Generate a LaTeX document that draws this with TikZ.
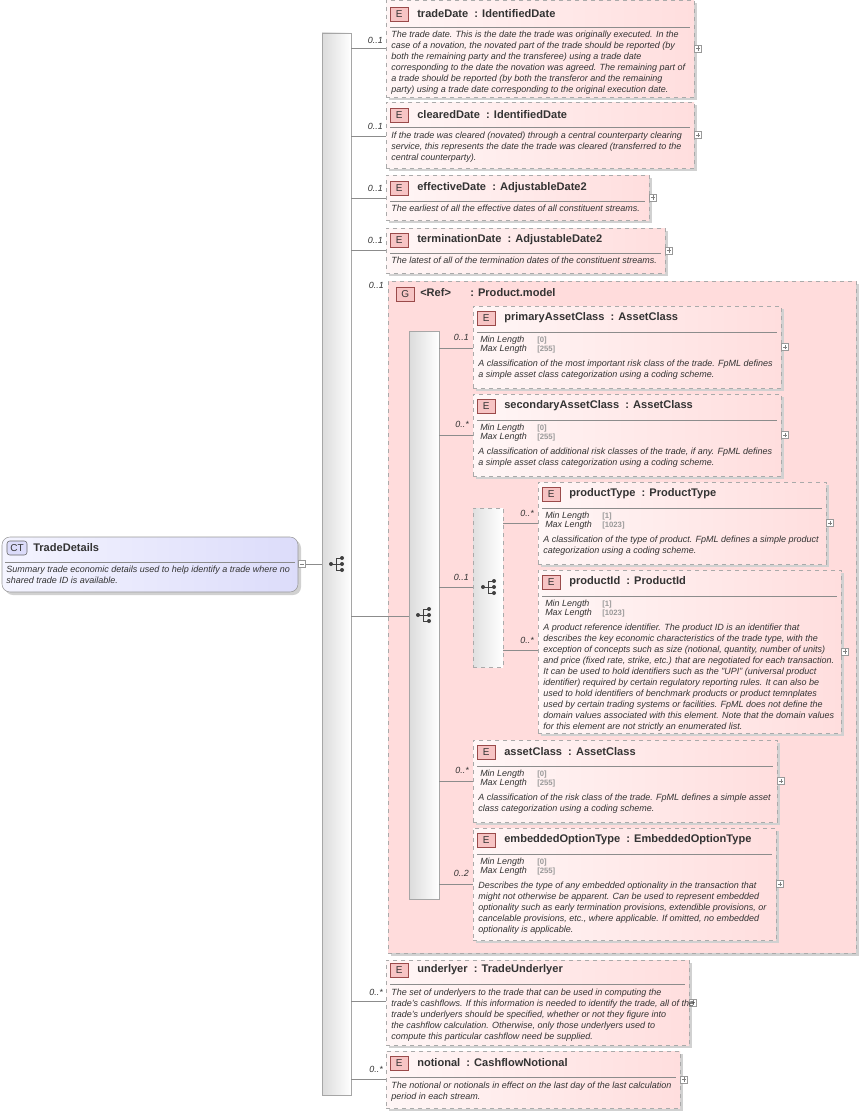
\documentclass[tikz,border=0pt]{standalone}
\usepackage{fontspec}
\setmainfont{Liberation Sans}
\usetikzlibrary{fit}
\definecolor{txt}{HTML}{333333}
\definecolor{pinkL}{HTML}{FFF6F6}
\definecolor{pinkR}{HTML}{FFDEDE}
\definecolor{grp}{HTML}{FFDCDC}
\definecolor{bdr}{HTML}{AAAAAA}
\definecolor{badgeF}{HTML}{F7C4C4}
\definecolor{badgeD}{HTML}{9A4A4A}
\definecolor{ctL}{HTML}{F4F4FF}
\definecolor{ctR}{HTML}{DCDCFA}
\tikzset{
  ebox/.style={draw=bdr,dashed,line width=0.6pt,inner sep=0,left color=pinkL,right color=pinkR},
  shad/.style={fill=black!18,draw=none},
  badge/.style={draw=badgeD,fill=badgeF,font=\fontsize{7.5}{8}\selectfont,text=txt,minimum width=13.5pt,minimum height=10.5pt,inner sep=0},
  title/.style={font=\fontsize{8.3}{9}\selectfont\bfseries,text=txt,inner sep=0,anchor=west},
  sep/.style={draw=black!45,line width=0.5pt},
  body/.style={font=\fontsize{6.75}{8.25}\selectfont\itshape,text=txt,inner sep=0,anchor=north west,align=left},
  rl/.style={font=\fontsize{6.7}{8}\selectfont\itshape,text=txt,inner sep=0,anchor=west},
  rv/.style={font=\fontsize{5.8}{7}\selectfont\bfseries,text=black!40,inner sep=0,anchor=west},
  card/.style={font=\fontsize{6.7}{8}\selectfont\itshape,text=txt,inner sep=0,anchor=east},
  plus/.style={draw=black!40,fill=white,minimum size=5.5pt,inner sep=0,line width=0.4pt},
  bar/.style={draw=black!35,left color=black!14,right color=white,inner sep=0,line width=0.5pt},
  conn/.style={draw=black!45,line width=0.5pt},
}
\newcommand\plusmark[1]{\draw[black!50,line width=0.4pt] ([xshift=-1.6pt]#1.center)--([xshift=1.6pt]#1.center) ([yshift=-1.6pt]#1.center)--([yshift=1.6pt]#1.center);}
% name x1 y1 x2 y2 titleY title sepY
\newcommand\elem[8]{%
  \fill[shad] (#2+3,#3+3) rectangle (#4+3,#5+3);
  \node[ebox,fit={(#2,#3)(#4,#5)}] (#1) {};
  \node[badge,anchor=west] (#1b) at (#2+4,#6) {E};
  \node[title] (#1t) at (#2+31,#6) {#7};
  \draw[sep] (#2+4,#8) -- (#4-4,#8);
  \node[plus] (#1p) at (#4+4,{(#3+#5)/2}) {};\plusmark{#1p}
}
\newcommand\restr[5]{%
  \node[rl] (#1mn) at (#2+7,#3) {Min Length};
  \node[rv] (#1mnv) at (#2+64,#3) {[#4]};
  \node[rl] (#1mx) at (#2+7,#3+9.5) {Max Length};
  \node[rv] (#1mxv) at (#2+64,#3+9.5) {[#5]};
}
\begin{document}
\begin{tikzpicture}[x=0.75pt,y=-0.75pt]
\useasboundingbox (0,0) rectangle (861,1113);
\fill[white] (0,0) rectangle (861,1113);

% CT
\fill[shad,rounded corners=6pt] (5,540) rectangle (301,595);
\node[draw=black!40,rounded corners=6pt,left color=ctL,right color=ctR,inner sep=0,fit={(2,537)(298,592)}] (ct) {};
\node[draw=black!60,fill=ctR,rounded corners=2pt,font=\fontsize{7.5}{8}\selectfont,text=txt,minimum width=15pt,minimum height=10.5pt,inner sep=0] (ctb) at (17,548) {CT};
\node[title] (ctt) at (33,548) {TradeDetails};
\draw[sep] (5,562) -- (295,562);
\node[body] (ctd) at (6,566) {Summary trade economic details used to help identify a trade where no\\shared trade ID is available.};
\node[plus] (ctp) at (302,564) {};
\draw[black!50,line width=0.4pt] ([xshift=-1.6pt]ctp.center)--([xshift=1.6pt]ctp.center);

% outer sequence bar
\node[bar,fit={(322,33)(351,1095)}] (seq) {};
\draw[conn] (ctp.east) -- (seq.west |- ctp.east);

% elements
\elem{td}{386}{0}{694}{97}{14}{tradeDate~~: IdentifiedDate}{27}
\node[body] at (391,31) {The trade date. This is the date the trade was originally executed. In the\\case of a novation, the novated part of the trade should be reported (by\\both the remaining party and the transferee) using a trade date\\corresponding to the date the novation was agreed. The remaining part of\\a trade should be reported (by both the transferor and the remaining\\party) using a trade date corresponding to the original execution date.};
\elem{cd}{386}{102}{694}{168}{115}{clearedDate~~: IdentifiedDate}{127}
\node[body] at (391,132) {If the trade was cleared (novated) through a central counterparty clearing\\service, this represents the date the trade was cleared (transferred to the\\central counterparty).};
\elem{ed}{386}{175}{649}{220}{188}{effectiveDate~~: AdjustableDate2}{201}
\node[body] at (391,205) {The earliest of all the effective dates of all constituent streams.};
\elem{tmd}{386}{228}{665}{273}{240}{terminationDate~~: AdjustableDate2}{253}
\node[body] at (391,257) {The latest of all of the termination dates of the constituent streams.};

% group
\fill[shad] (391,284) rectangle (859,956);
\node[draw=bdr,dashed,line width=0.6pt,fill=grp,inner sep=0,fit={(388,281)(856,953)}] (grp) {};
\node[badge,anchor=west] (gb) at (396,294) {G};
\node[title] (gr) at (420,293) {<Ref>};
\node[title] (gm) at (470,293) {: Product.model};
\node[bar,fit={(409,331)(439,899)}] (iseq) {};

\elem{pac}{473}{306}{781}{388}{318}{primaryAssetClass~~: AssetClass}{332}
\restr{pac}{473}{340}{0}{255}
\node[body] at (478,360) {A classification of the most important risk class of the trade. FpML defines\\a simple asset class categorization using a coding scheme.};
\elem{sac}{473}{394}{781}{476}{406}{secondaryAssetClass~~: AssetClass}{420}
\restr{sac}{473}{428}{0}{255}
\node[body] at (478,448) {A classification of additional risk classes of the trade, if any. FpML defines\\a simple asset class categorization using a coding scheme.};

\node[draw=bdr,dashed,line width=0.5pt,left color=black!12,right color=white,inner sep=0,fit={(473,508)(503,667)}] (ch) {};

\elem{pt}{538}{482}{826}{564}{494}{productType~~: ProductType}{508}
\restr{pt}{538}{516}{1}{1023}
\node[body] at (543,536) {A classification of the type of product. FpML defines a simple product\\categorization using a coding scheme.};
\elem{pid}{538}{570}{841}{733}{582}{productId~~: ProductId}{596}
\restr{pid}{538}{604}{1}{1023}
\node[body] at (543,624) {A product reference identifier. The product ID is an identifier that\\describes the key economic characteristics of the trade type, with the\\exception of concepts such as size (notional, quantity, number of units)\\and price (fixed rate, strike, etc.) that are negotiated for each transaction.\\It can be used to hold identifiers such as the "UPI" (universal product\\identifier) required by certain regulatory reporting rules. It can also be\\used to hold identifiers of benchmark products or product temnplates\\used by certain trading systems or facilities. FpML does not define the\\domain values associated with this element. Note that the domain values\\for this element are not strictly an enumerated list.};
\elem{ac}{473}{740}{777}{822}{752}{assetClass~~: AssetClass}{766}
\restr{ac}{473}{774}{0}{255}
\node[body] at (478,794) {A classification of the risk class of the trade. FpML defines a simple asset\\class categorization using a coding scheme.};
\elem{eot}{473}{828}{776}{940}{840}{embeddedOptionType~~: EmbeddedOptionType}{854}
\restr{eot}{473}{862}{0}{255}
\node[body] at (478,882) {Describes the type of any embedded optionality in the transaction that\\might not otherwise be apparent. Can be used to represent embedded\\optionality such as early termination provisions, extendible provisions, or\\cancelable provisions, etc., where applicable. If omitted, no embedded\\optionality is applicable.};

\elem{ul}{386}{960}{689}{1045}{970}{underlyer~~: TradeUnderlyer}{984}
\node[body] at (391,989) {The set of underlyers to the trade that can be used in computing the\\trade's cashflows. If this information is needed to identify the trade, all of the\\trade's underlyers should be specified, whether or not they figure into\\the cashflow calculation. Otherwise, only those underlyers used to\\compute this particular cashflow need be supplied.};
\elem{nt}{386}{1051}{680}{1108}{1063}{notional~~: CashflowNotional}{1077}
\node[body] at (391,1082) {The notional or notionals in effect on the last day of the last calculation\\period in each stream.};

% connectors
\foreach \n/\y in {td/48,cd/136,ed/198,tmd/250,ul/1001,nt/1079}{\draw[conn] (seq.east |- 0,\y) -- (\n.west |- 0,\y);}
\draw[conn] (seq.east |- 0,616) -- (iseq.west |- 0,616);
\foreach \n/\y in {pac/348,sac/435,ac/781,eot/884}{\draw[conn] (iseq.east |- 0,\y) -- (\n.west |- 0,\y);}
\draw[conn] (iseq.east |- 0,587) -- (ch.west |- 0,587);
\foreach \n/\y in {pt/523,pid/650}{\draw[conn] (ch.east |- 0,\y) -- (\n.west |- 0,\y);}

% cardinalities
\foreach \x/\y/\t in {383/40/0..1,383/126/0..1,383/188/0..1,383/240/0..1,384/285/0..1,383/992/0..*,383/1069/0..*,469/337/0..1,469/424/0..*,469/577/0..1,469/770/0..*,469/873/0..2,534/513/0..*,534/640/0..*}
  {\node[card] at (\x,\y) {\t};}

% sequence icons
\foreach \cx/\cy in {337/564,424/615,489/587}{
  \fill[black!75] (\cx-6,\cy) circle (1.5pt);
  \draw[black!75,line width=0.7pt] (\cx-6,\cy)--(\cx-1,\cy) (\cx-1,\cy-6)--(\cx-1,\cy+6) (\cx-1,\cy-6)--(\cx+4,\cy-6) (\cx-1,\cy)--(\cx+4,\cy) (\cx-1,\cy+6)--(\cx+4,\cy+6);
  \fill[black!75] (\cx+5,\cy-6) circle (1.5pt) (\cx+5,\cy) circle (1.5pt) (\cx+5,\cy+6) circle (1.5pt);
}
\end{tikzpicture}
\end{document}
